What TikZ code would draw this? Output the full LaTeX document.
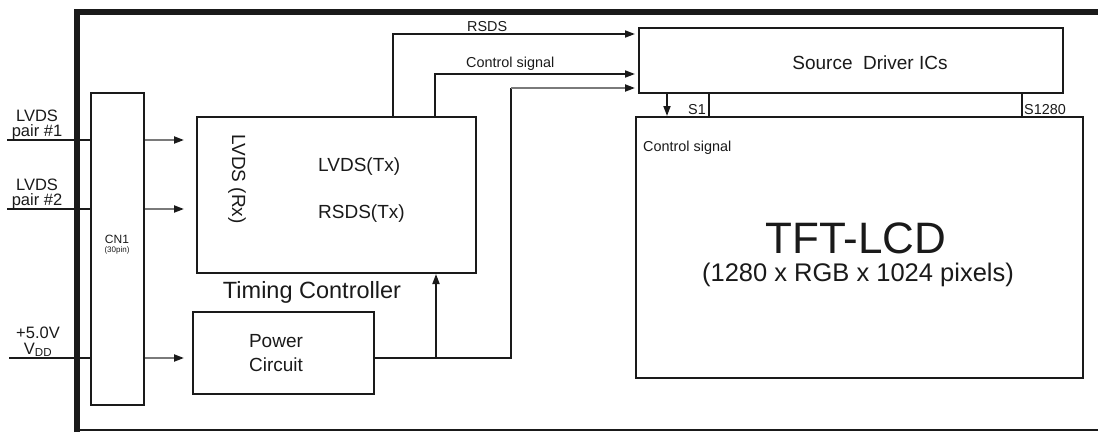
\documentclass[tikz,border=0pt]{standalone}
\usepackage{fontspec}
\setmainfont{Liberation Sans}
\usetikzlibrary{arrows.meta, positioning}
\definecolor{LineDark}{HTML}{1A1A1A}
\definecolor{LineGray}{HTML}{7A7A7A}

\newcommand{\fsz}[1]{\fontsize{#1}{#1}\selectfont}

\begin{document}
\begin{tikzpicture}[
    x=1pt, y=-1pt,
    >={Triangle[length=10pt, width=7pt]},
    % Block Styles
    box/.style={draw=LineDark, line width=2pt, inner sep=0pt, fill=white},
    lbl/.style={inner sep=0pt, text=LineDark},
    sig/.style={draw=LineDark, line width=1.8pt},
    graysig/.style={draw=LineGray, line width=2pt},
    graytip/.style={-{Triangle[length=10pt, width=7pt, fill=LineDark, color=LineDark]}},
    pin/.style={draw=LineDark, line width=1.8pt}
]
    \useasboundingbox (0,0) rectangle (1098,432);

    % ==========================================
    % MODULE FRAME
    % ==========================================
    \draw[LineDark, line width=5.5pt] (77,432) -- (77,12) -- (1098,12);
    \draw[LineDark, line width=1.8pt] (77,430) -- (1098,430);

    % ==========================================
    % BLOCKS
    % ==========================================
    \node[box, minimum width=53pt, minimum height=312pt] (cn1) at (117.5,249) {};
    \node[box, minimum width=279pt, minimum height=156pt] (tcon) at (336.5,195) {};
    \node[box, minimum width=181pt, minimum height=82pt] (pwr) at (283.5,353) {};
    \node[box, minimum width=424pt, minimum height=65pt] (sd) at (851,60.5) {};
    \node[box, minimum width=447pt, minimum height=261pt] (tft) at (859.5,247.5) {};

    % Connector labels
    \node[lbl, font=\fsz{12}] (cn1name) at (117,239) {CN1};
    \node[lbl, font=\fsz{8}] (cn1pin) at (117,250) {(30pin)};

    % Timing controller texts
    \node[lbl, font=\fsz{19}, rotate=-90] (rx) at (237,179) {LVDS (Rx)};
    \node[lbl, font=\fsz{19}, anchor=west] (lvdstx) at (318,167) {LVDS(Tx)};
    \node[lbl, font=\fsz{19}, anchor=west] (rsdstx) at (318,214) {RSDS(Tx)};
    \node[lbl, font=\fsz{23.5}] (tconname) at (312,292) {Timing Controller};

    % Power circuit text
    \node[lbl, font=\fontsize{19}{24}\selectfont, align=center] (pwrname) at (276,353) {Power\\Circuit};

    % Source driver and panel texts
    \node[lbl, font=\fsz{19}] (sdname) at (870,63) {Source~~Driver ICs};
    \node[lbl, font=\fsz{44}, anchor=base] (tftname) at (856,253) {TFT-LCD};
    \node[lbl, font=\fsz{25.5}, anchor=base] (tftres) at (858,281) {(1280 x RGB x 1024 pixels)};
    \node[lbl, font=\fsz{14.4}, anchor=west] (tftctrl) at (643,148) {Control signal};

    % ==========================================
    % INPUTS
    % ==========================================
    \coordinate (in1) at (7,140);
    \coordinate (in2) at (7,209);
    \coordinate (in3) at (9,358);

    \node[lbl, font=\fsz{16.5}, anchor=base] (in1top) at (37,121) {LVDS};
    \node[lbl, font=\fsz{16.5}, anchor=base] (in1bot) at (37,136) {pair \#1};
    \node[lbl, font=\fsz{16.5}, anchor=base] (in2top) at (37,190) {LVDS};
    \node[lbl, font=\fsz{16.5}, anchor=base] (in2bot) at (37,205) {pair \#2};
    \node[lbl, font=\fsz{16.5}, anchor=base] (vname) at (38,338) {+5.0V};
    \node[lbl, font=\fsz{16.5}, anchor=base] (vdd) at (38,354) {V\textsubscript{DD}};

    \draw[sig] (in1) -- (in1 -| cn1.west);
    \draw[sig] (in2) -- (in2 -| cn1.west);
    \draw[sig] (in3) -- (in3 -| cn1.west);

    % CN1 outputs
    \coordinate (o1) at (184,140);
    \coordinate (o2) at (184,209);
    \coordinate (o3) at (184,358);
    \draw[graysig, graytip] (o1 -| cn1.east) -- (o1);
    \draw[graysig, graytip] (o2 -| cn1.east) -- (o2);
    \draw[graysig, graytip] (o3 -| cn1.east) -- (o3);

    % ==========================================
    % TCON TO SOURCE DRIVER
    % ==========================================
    \coordinate (rsdsout) at (393,117);
    \coordinate (ctrlout) at (435,117);
    \coordinate (rsdsin) at (639,34);
    \coordinate (ctrlin) at (639,74);
    \coordinate (pwrin) at (639,88);

    \draw[sig, ->, shorten >=4pt] (rsdsout) |- (rsdsin);
    \draw[sig, ->, shorten >=4pt] (ctrlout) |- (ctrlin);
    \node[lbl, font=\fsz{14.4}, anchor=west] (rsdsname) at (467,27) {RSDS};
    \node[lbl, font=\fsz{14.4}, anchor=west] (ctrlname) at (466,64) {Control signal};

    % ==========================================
    % POWER DISTRIBUTION
    % ==========================================
    \coordinate (pwrbend) at (511,358);
    \coordinate (pwrup) at (511,88);
    \coordinate (tapin) at (436,358);
    \draw[sig] (pwrbend -| pwr.east) -- (pwrbend) -- (pwrup);
    \draw[graysig, graytip, shorten >=4pt] (pwrup) -- (pwrin);
    \draw[sig, ->] (tapin) -- (tapin |- tcon.south);

    % ==========================================
    % SOURCE DRIVER TO PANEL
    % ==========================================
    \coordinate (ctrldown) at (667,93);
    \draw[sig, ->] (ctrldown) -- (ctrldown |- tft.north);
    \coordinate (s1) at (709,93);
    \coordinate (sn) at (1022,93);
    \draw[pin] (s1) -- (s1 |- tft.north);
    \draw[pin] (sn) -- (sn |- tft.north);
    \node[lbl, font=\fsz{14.4}, anchor=east] (s1name) at (706,110) {S1};
    \node[lbl, font=\fsz{14.4}, anchor=west] (snname) at (1024,110) {S1280};

\end{tikzpicture}
\end{document}
